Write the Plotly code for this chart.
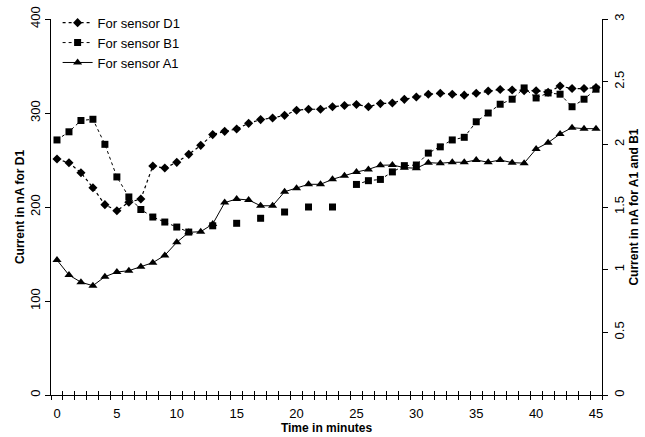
import plotly.graph_objects as go

minutes = list(range(0, 46))

d1_current = [251, 247, 236.5, 220.5, 202.5, 196, 205, 208.5, 243.6, 241.5,
              247.5, 256, 265.6, 277, 280.5, 283, 289, 293, 294.7, 297.5,
              303, 304, 304, 306.7, 308, 309, 306.7, 310, 310.6, 314.5,
              317, 320, 321, 320, 319, 321, 323.4, 325, 324.5, 323.7,
              323.7, 322, 328.7, 326, 326, 327]

b1_current = [2.035, 2.10, 2.19, 2.20, 2.00, 1.74, 1.58, 1.48, 1.42, 1.38,
              1.34, 1.30, None, 1.35, None, 1.37, None, 1.41, None, 1.46,
              None, 1.50, None, 1.50, None, 1.68, 1.71, 1.72, 1.78, 1.83,
              1.835, 1.93, 1.98, 2.035, 2.056, 2.18, 2.25, 2.32, 2.36, 2.45,
              2.37, 2.41, 2.40, 2.30, 2.36, 2.44]

a1_current = [1.077, 0.957, 0.90, 0.872, 0.944, 0.981, 0.992, 1.024, 1.056, 1.114,
              1.218, 1.298, 1.303, 1.364, 1.535, 1.564, 1.556, 1.51, 1.51, 1.622,
              1.649, 1.681, 1.681, 1.721, 1.75, 1.779, 1.80, 1.833, 1.835, 1.814,
              1.809, 1.854, 1.849, 1.857, 1.857, 1.875, 1.857, 1.875, 1.854, 1.85,
              1.963, 2.013, 2.083, 2.133, 2.125, 2.125]

x_tick_vals = [0, 5, 10, 15, 20, 25, 30, 35, 40, 45]
left_tick_vals = [0, 100, 200, 300, 400]
right_tick_vals = [0, 0.5, 1, 1.5, 2, 2.5, 3]

FONT = "Arial, Liberation Sans, sans-serif"

fig = go.Figure()

fig.add_trace(go.Scatter(
    x=minutes, y=d1_current, name="For sensor D1", mode="lines+markers",
    line=dict(color="black", width=1.2, dash="dot"),
    marker=dict(symbol="diamond", size=7, color="black"),
    xaxis="x", yaxis="y"))

fig.add_trace(go.Scatter(
    x=minutes, y=b1_current, name="For sensor B1", mode="lines+markers",
    line=dict(color="black", width=1, dash="3px,3px"),
    marker=dict(symbol="square", size=7, color="black"),
    connectgaps=False, xaxis="x", yaxis="y2"))

fig.add_trace(go.Scatter(
    x=minutes, y=a1_current, name="For sensor A1", mode="lines+markers",
    line=dict(color="black", width=1),
    marker=dict(symbol="triangle-up", size=8, color="black"),
    xaxis="x", yaxis="y2"))

# invisible helper trace so the overlay axis carrying the inner tick marks is drawn
fig.add_trace(go.Scatter(x=[minutes[0]], y=[d1_current[0]], xaxis="x2", yaxis="y",
                         mode="markers", marker=dict(opacity=0),
                         showlegend=False, hoverinfo="skip"))

xrange = [-0.5, 45.5]

fig.update_layout(
    width=645, height=437,
    margin=dict(l=51, r=43, t=19, b=42, autoexpand=False),
    paper_bgcolor="white", plot_bgcolor="white",
    font=dict(family=FONT, size=12, color="black"),
    showlegend=True,
    legend=dict(x=0.012, y=1.03, xanchor="left", yanchor="top",
                bgcolor="rgba(0,0,0,0)", font=dict(size=13, family=FONT),
                itemwidth=30, tracegroupgap=0),
    xaxis=dict(range=xrange, tickmode="array", tickvals=x_tick_vals,
               ticks="outside", ticklen=6, tickcolor="rgba(0,0,0,0)",
               minor=dict(tickmode="linear", tick0=-0.5, dtick=1, ticks="outside",
                          ticklen=4, tickcolor="black", tickwidth=1, showgrid=False),
               showline=True, linecolor="black", linewidth=1,
               showgrid=False, zeroline=False,
               tickfont=dict(size=13),
               title=dict(text="<b>Time in minutes</b>", font=dict(size=12), standoff=4)),
    xaxis2=dict(range=xrange, overlaying="x", anchor="y", side="bottom",
                tickmode="linear", tick0=-0.5, dtick=1, ticks="inside",
                ticklen=4, tickcolor="black", tickwidth=1, showticklabels=False,
                showline=True, linecolor="black", linewidth=1,
                showgrid=False, zeroline=False),
    yaxis=dict(range=[0, 400], tickmode="array", tickvals=left_tick_vals,
               ticks="outside", ticklen=5, tickcolor="black", tickangle=-90,
               showline=True, linecolor="black", linewidth=1,
               showgrid=False, zeroline=False, tickfont=dict(size=13),
               title=dict(text="<b>Current in nA for D1</b>", font=dict(size=12), standoff=0)),
    yaxis2=dict(range=[0, 3], tickmode="array", tickvals=right_tick_vals,
                overlaying="y", side="right", anchor="x",
                ticks="outside", ticklen=5, tickcolor="black", tickangle=-90,
                showline=True, linecolor="black", linewidth=1,
                showgrid=False, zeroline=False, tickfont=dict(size=13),
                title=dict(text="<b>Current in nA for A1 and B1</b>", font=dict(size=12), standoff=4)),
)

fig.write_html("out.html", config={"displayModeBar": False},
               post_script="document.body.style.margin='0';")
